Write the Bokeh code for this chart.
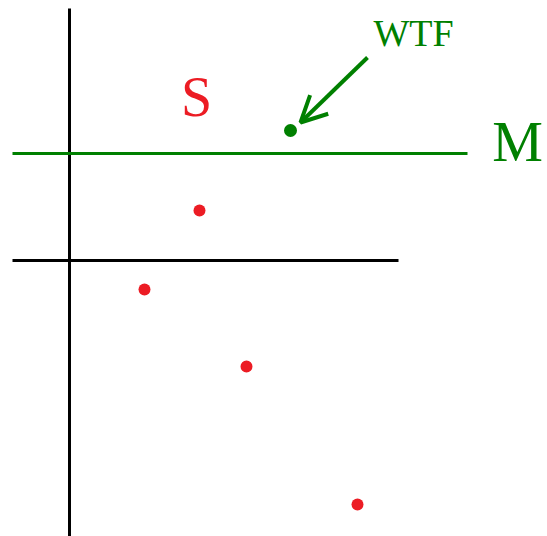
from bokeh.plotting import figure
from bokeh.models import Range1d, Arrow, OpenHead
from bokeh.core.properties import value
from bokeh.embed import file_html
from bokeh.resources import INLINE

# data (units: arbitrary, origin at the black cross)
s_x = [13.0, 7.5, 17.7, 28.8]
s_y = [5.0, -2.9, -10.6, -24.4]
wtf_x = [22.1]
wtf_y = [13.0]
m_level = 10.7
axis_x_span = [-5.7, 32.9]
m_x_span = [-5.7, 39.8]
axis_y_span = [25.2, -27.6]
arrow_from = (29.8, 20.3)
arrow_to = (23.1, 13.8)
label_s = ("S", 12.7, 16.4)
label_m = ("M", 44.8, 11.9)
label_wtf = ("WTF", 34.4, 22.8)

RED = "#ec1c24"

p = figure(width=547, height=536, output_backend="svg", toolbar_location=None,
           x_range=Range1d(-6.9, 47.8), y_range=Range1d(-27.6, 26.0),
           min_border=0)
p.axis.visible = False
p.grid.visible = False
p.outline_line_color = None
p.background_fill_color = "white"

# axes sketch
p.line(x=[0, 0], y=axis_y_span, line_color="black", line_width=3)
p.line(x=axis_x_span, y=[0, 0], line_color="black", line_width=3)
p.line(x=m_x_span, y=[m_level, m_level], line_color="green", line_width=3)

p.scatter(x=s_x, y=s_y, size=12, color=RED, line_color=None)
p.scatter(x=wtf_x, y=wtf_y, size=13, color="green", line_color=None)

p.add_layout(Arrow(end=OpenHead(size=26, line_color="green", line_width=4),
                   x_start=arrow_from[0], y_start=arrow_from[1],
                   x_end=arrow_to[0], y_end=arrow_to[1],
                   line_color="green", line_width=4))

font = value("Liberation Serif")
p.text(x=[label_s[1]], y=[label_s[2]], text=[label_s[0]], text_color=RED,
       text_font=font, text_font_size="56px", text_align="center",
       text_baseline="alphabetic")
p.text(x=[label_m[1]], y=[label_m[2]], text=[label_m[0]], text_color="green",
       text_font=font, text_font_size="57px", text_align="center",
       text_baseline="alphabetic")
p.text(x=[label_wtf[1]], y=[label_wtf[2]], text=[label_wtf[0]], text_color="green",
       text_font=font, text_font_size="38px", text_align="center",
       text_baseline="alphabetic")

open("out.html", "w").write(file_html(p, INLINE))
